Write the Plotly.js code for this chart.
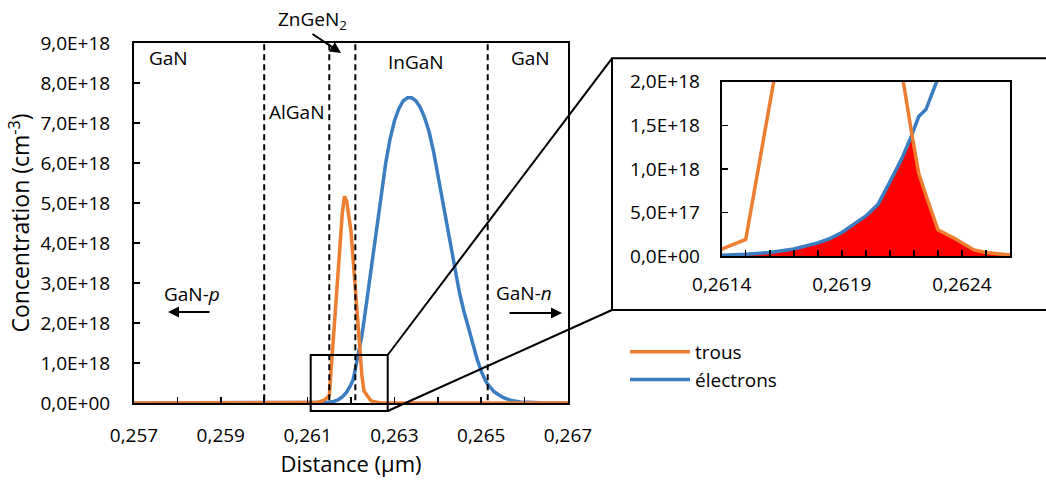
<!DOCTYPE html>
<html>
<head>
<meta charset="utf-8">
<script src="https://cdn.plot.ly/plotly-3.0.1.min.js"></script>
<style>html,body{margin:0;padding:0;background:#fff}#chart{width:1046px;height:482px}</style>
</head>
<body>
<div id="chart"></div>
<script>
// ---- data (concentrations in units of 1e18 cm^-3) ----
const distance = [0.257, 0.258, 0.259, 0.260, 0.261, 0.2612, 0.2613, 0.2614, 0.2615, 0.2616, 0.2617, 0.2618, 0.26185, 0.2619, 0.2620, 0.26205, 0.2621, 0.26215, 0.26219, 0.26222, 0.26225, 0.2623, 0.26237, 0.26245, 0.2625, 0.2626, 0.2627, 0.2628, 0.2629, 0.2630, 0.2631, 0.2632, 0.2633, 0.2634, 0.2635, 0.2636, 0.2637, 0.2638, 0.2639, 0.2640, 0.2641, 0.2642, 0.2643, 0.2644, 0.2645, 0.2646, 0.2647, 0.2648, 0.2649, 0.2650, 0.2651, 0.2652, 0.2653, 0.2655, 0.2657, 0.2659, 0.2662, 0.2665, 0.267];
const trous = [0, 0, 0, 0, 0, 0.01, 0.04, 0.08, 0.19, 1.75, 3.3, 4.75, 5.17, 5.05, 4.3, 3.6, 2.85, 2.1, 1.42, 0.95, 0.7, 0.3, 0.2, 0.07, 0.04, 0.01, 0, 0, 0, 0, 0, 0, 0, 0, 0, 0, 0, 0, 0, 0, 0, 0, 0, 0, 0, 0, 0, 0, 0, 0, 0, 0, 0, 0, 0, 0, 0, 0, 0];
const electrons = [0, 0, 0, 0, 0, 0.002, 0.005, 0.01, 0.02, 0.04, 0.08, 0.15, 0.2, 0.27, 0.46, 0.59, 0.85, 1.12, 1.38, 1.6, 1.68, 2.05, 2.6, 3.2, 3.6, 4.45, 5.25, 6.0, 6.6, 7.05, 7.35, 7.55, 7.63, 7.63, 7.55, 7.38, 7.12, 6.78, 6.3, 5.72, 5.1, 4.5, 3.9, 3.3, 2.75, 2.3, 1.88, 1.5, 1.12, 0.8, 0.55, 0.4, 0.28, 0.14, 0.06, 0.025, 0.008, 0.002, 0];
const SCALE = 1e18;

// layer boundaries (µm)
const layerBounds = [0.2600, 0.2615, 0.2621, 0.26515];

// tick labels (blank entries = unlabeled tick marks)
const xTickVals = [0.257, 0.258, 0.259, 0.260, 0.261, 0.262, 0.263, 0.264, 0.265, 0.266, 0.267];
const xTickText = ['0,257', '', '0,259', '', '0,261', '', '0,263', '', '0,265', '', '0,267'];
const yTickVals = [0, 1, 2, 3, 4, 5, 6, 7, 8, 9];
const yTickText = ['0,0E+00', '1,0E+18', '2,0E+18', '3,0E+18', '4,0E+18', '5,0E+18', '6,0E+18', '7,0E+18', '8,0E+18', '9,0E+18'];
const x2TickVals = [0.2614, 0.2615, 0.2616, 0.2617, 0.2618, 0.2619, 0.2620, 0.2621, 0.2622, 0.2623, 0.2624, 0.2625, 0.2626];
const x2TickText = ['0,2614', '', '', '', '', '0,2619', '', '', '', '', '0,2624', '', ''];
const y2TickVals = [0, 0.5, 1, 1.5, 2];
const y2TickText = ['0,0E+00', '5,0E+17', '1,0E+18', '1,5E+18', '2,0E+18'];
const insetRange = [0.2614, 0.2626];

// ---- build ----
const W = 1046, H = 482;
const px = v => v / W;
const py = v => 1 - v / H;

const toCm = arr => arr.map(v => v * SCALE);
const ORANGE = '#ED7D31', BLUE = '#3A7DC0';
const FONT = 'Open Sans, Noto Sans, sans-serif';

// overlap (recombination) area in the inset
const fx = [], fy = [];
distance.forEach((d, i) => {
  if (d >= insetRange[0] && d <= insetRange[1]) {
    fx.push(d);
    fy.push(Math.min(trous[i], electrons[i]) * SCALE);
  }
});

const traces = [
  {x: fx, y: fy, xaxis: 'x2', yaxis: 'y2', mode: 'lines', fill: 'tozeroy', fillcolor: '#FF0000',
   line: {width: 0, color: '#FF0000'}, showlegend: false, hoverinfo: 'skip'},
  {x: distance, y: toCm(electrons), xaxis: 'x2', yaxis: 'y2', mode: 'lines', line: {color: BLUE, width: 3.5}, showlegend: false},
  {x: distance, y: toCm(trous), xaxis: 'x2', yaxis: 'y2', mode: 'lines', line: {color: ORANGE, width: 3.5}, showlegend: false},
  {x: distance, y: toCm(electrons), mode: 'lines', name: 'électrons', legendrank: 2, line: {color: BLUE, width: 3.5}},
  {x: distance, y: toCm(trous), mode: 'lines', name: 'trous', legendrank: 1, line: {color: ORANGE, width: 3.5}}
];

const tickFont = {family: FONT, size: 19, color: '#000'};

const shapes = layerBounds.map(b => ({
  type: 'line', xref: 'x', yref: 'y', x0: b, x1: b, y0: -0.18 * SCALE, y1: 9 * SCALE,
  line: {color: '#000', width: 2, dash: '6px,4px'}
}));
const black = {color: '#000', width: 2};
shapes.push(
  {type: 'rect', xref: 'paper', yref: 'paper', x0: px(310.7), x1: px(387.7), y0: py(411), y1: py(355), line: black},
  {type: 'line', xref: 'paper', yref: 'paper', x0: px(387.7), y0: py(355), x1: px(612), y1: py(58.3), line: black},
  {type: 'line', xref: 'paper', yref: 'paper', x0: px(387.7), y0: py(411), x1: px(612), y1: py(310), line: black},
  {type: 'rect', xref: 'paper', yref: 'paper', x0: px(612), x1: 1.004, y0: py(310), y1: py(58.3), line: black}
);

const lab = (text, x, y) => ({text, x: px(x), y: py(y), xref: 'paper', yref: 'paper', showarrow: false,
  font: {family: FONT, size: 19, color: '#000'}, xanchor: 'center', yanchor: 'middle'});
const arrow = (hx, hy, tx, ty) => ({text: '', x: px(hx), y: py(hy), xref: 'paper', yref: 'paper', showarrow: true,
  ax: tx - hx, ay: ty - hy, axref: 'pixel', ayref: 'pixel', arrowhead: 2, arrowsize: 1.1, arrowwidth: 2, arrowcolor: '#000'});

const annotations = [
  lab('GaN', 168, 58),
  lab('AlGaN', 297, 112),
  lab('ZnGeN<sub>2</sub>', 312, 20),
  lab('InGaN', 416, 62),
  lab('GaN', 530, 58),
  lab('GaN-<i>p</i>', 192, 294),
  lab('GaN-<i>n</i>', 524, 293),
  arrow(168, 312, 211, 312),
  arrow(562, 313, 508, 313),
  arrow(341, 53, 311, 33)
];

const layout = {
  width: W, height: H,
  margin: {l: 0, r: 0, t: 0, b: 0},
  paper_bgcolor: '#fff', plot_bgcolor: '#fff',
  font: {family: FONT, color: '#000'},
  xaxis: {
    domain: [px(134), px(568)], range: [0.257, 0.267], anchor: 'y',
    tickmode: 'array', tickvals: xTickVals, ticktext: xTickText, tickfont: tickFont,
    ticks: 'inside', ticklen: 6, tickwidth: 1.5, tickcolor: '#000',
    ticklabelstandoff: 14,
    showline: true, linecolor: '#000', linewidth: 2, mirror: true, showgrid: false, zeroline: false,
    title: {text: 'Distance (μm)', font: {family: FONT, size: 22, color: '#000'}, standoff: 10}
  },
  yaxis: {
    domain: [1 - 403 / H, 1 - 43 / H], range: [0, 9 * SCALE], anchor: 'x',
    tickmode: 'array', tickvals: yTickVals.map(v => v * SCALE), ticktext: yTickText, tickfont: tickFont,
    ticks: 'inside', ticklen: 6, tickwidth: 1.5, tickcolor: '#000', ticklabelstandoff: 18,
    showline: true, linecolor: '#000', linewidth: 2, mirror: true, showgrid: false, zeroline: false,
    title: {text: 'Concentration (cm<sup>-3</sup>)', font: {family: FONT, size: 23, color: '#000'}, standoff: 4}
  },
  xaxis2: {
    domain: [px(721.7), px(1010)], range: insetRange, anchor: 'y2',
    tickmode: 'array', tickvals: x2TickVals, ticktext: x2TickText, tickfont: tickFont,
    ticks: 'inside', ticklen: 6, tickwidth: 1.5, tickcolor: '#000',
    ticklabelstandoff: 10,
    showline: true, linecolor: '#000', linewidth: 2, mirror: true, showgrid: false, zeroline: false
  },
  yaxis2: {
    domain: [1 - 256 / H, 1 - 81.7 / H], range: [0, 2 * SCALE], anchor: 'x2',
    tickmode: 'array', tickvals: y2TickVals.map(v => v * SCALE), ticktext: y2TickText, tickfont: tickFont,
    ticks: 'inside', ticklen: 6, tickwidth: 1.5, tickcolor: '#000', ticklabelstandoff: 16,
    showline: true, linecolor: '#000', linewidth: 2, mirror: true, showgrid: false, zeroline: false
  },
  showlegend: true,
  legend: {x: px(625), y: py(333), xanchor: 'left', yanchor: 'top', bgcolor: 'rgba(0,0,0,0)',
    itemwidth: 60, font: {family: FONT, size: 19, color: '#000'}, tracegroupgap: 0},
  shapes, annotations
};

Plotly.newPlot('chart', traces, layout, {staticPlot: true, displayModeBar: false});
</script>
</body>
</html>
